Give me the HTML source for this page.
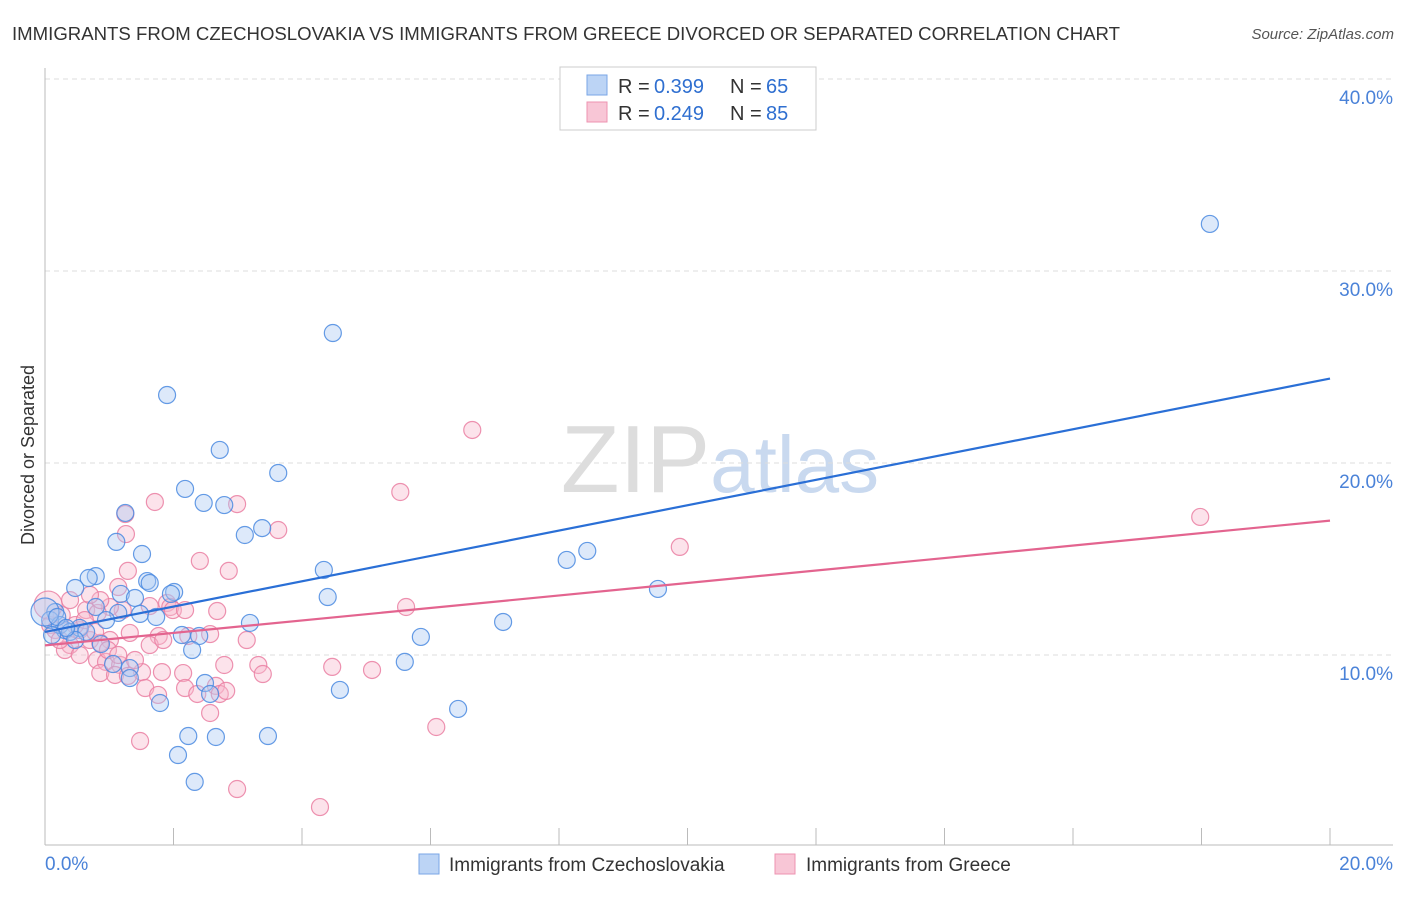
<!DOCTYPE html>
<html><head><meta charset="utf-8"><style>
body{margin:0;background:#fff;font-family:"Liberation Sans",sans-serif;}
svg text{font-family:"Liberation Sans",sans-serif;}
</style></head><body>
<svg width="1406" height="892" xmlns="http://www.w3.org/2000/svg">
<text x="12" y="40" font-size="18" fill="#333" textLength="1108" lengthAdjust="spacingAndGlyphs">IMMIGRANTS FROM CZECHOSLOVAKIA VS IMMIGRANTS FROM GREECE DIVORCED OR SEPARATED CORRELATION CHART</text>
<text x="1394" y="39" font-size="15" fill="#555" font-style="italic" text-anchor="end">Source: ZipAtlas.com</text>
<text x="720" y="492" font-size="96" fill="#ddd" text-anchor="middle" font-family="Liberation Serif">ZIP<tspan fill="#c9d9ef" font-family="Liberation Sans" font-size="80">atlas</tspan></text>
<g id="grid"></g>
<g id="axes"></g>
<g id="pts"></g>
<g id="lines"></g>
<text transform="translate(34,455) rotate(-90)" font-size="18" fill="#333" text-anchor="middle">Divorced or Separated</text>
<g>
<rect x="560" y="67" width="256" height="63" fill="#fff" stroke="#ccc"/>
<rect x="587" y="75" width="20" height="20" fill="#bcd4f5" stroke="#7aa6e6"/>
<rect x="587" y="102" width="20" height="20" fill="#f8c6d6" stroke="#ee93b0"/>
<text x="618" y="93" font-size="20" fill="#333">R =</text>
<text x="654" y="93" font-size="20" fill="#2f6fd0">0.399</text>
<text x="730" y="93" font-size="20" fill="#333">N =</text>
<text x="766" y="93" font-size="20" fill="#2f6fd0">65</text>
<text x="618" y="120" font-size="20" fill="#333">R =</text>
<text x="654" y="120" font-size="20" fill="#2f6fd0">0.249</text>
<text x="730" y="120" font-size="20" fill="#333">N =</text>
<text x="766" y="120" font-size="20" fill="#2f6fd0">85</text>
</g>
<g>
<rect x="419" y="854" width="20" height="20" fill="#bcd4f5" stroke="#7aa6e6"/>
<text x="449" y="871" font-size="19" fill="#333">Immigrants from Czechoslovakia</text>
<rect x="775" y="854" width="20" height="20" fill="#f8c6d6" stroke="#ee93b0"/>
<text x="806" y="871" font-size="19" fill="#333">Immigrants from Greece</text>
</g>
</svg>
<script>
const xTicks=[0,20];
const yTicks=[10,20,30,40];
const blueX=[18.13,4.48,1.90,2.72,3.63,2.18,2.47,2.79,3.11,3.38,1.25,1.11,1.51,4.34,8.12,8.44,9.54,0.79,0.68,0.47,1.59,1.63,2.01,1.96,1.18,1.40,4.40,0.79,1.14,0.95,1.48,1.73,3.19,7.13,2.13,2.40,5.85,2.29,0.87,5.60,1.06,1.32,1.32,2.49,2.57,4.59,1.79,6.43,2.23,2.66,3.47,2.07,2.33,0.16,0.08,0.31,0.23,0.39,0.54,0,0.19,0.64,0.47,0.33,0.11];
const blueY=[32.45,26.77,23.54,20.68,19.48,18.65,17.92,17.81,16.25,16.61,17.40,15.89,15.26,14.43,14.95,15.42,13.44,14.11,14.01,13.49,13.85,13.75,13.28,13.18,13.18,12.97,13.02,12.50,12.19,11.82,12.14,11.98,11.67,11.72,11.04,10.99,10.94,10.26,10.57,9.64,9.53,9.32,8.80,8.54,7.97,8.18,7.50,7.19,5.78,5.73,5.78,4.79,3.39,12.24,11.82,11.30,11.56,11.20,11.41,12.24,11.98,11.20,10.78,11.41,11.04];
const pinkX=[6.65,5.53,17.98,9.88,1.71,2.99,1.25,1.26,3.63,2.41,2.86,1.29,1.14,1.90,1.95,1.99,2.68,1.63,1.21,5.62,1.01,0.64,0.82,1.32,1.77,2.23,2.57,3.14,1.01,0.54,0.70,0.86,0.39,0.31,0.54,0.81,0.95,1.17,1.51,1.82,2.15,2.79,3.32,3.39,4.47,5.09,0.86,1.09,1.29,1.56,1.76,2.18,2.66,2.72,2.37,2.82,2.57,1.48,6.09,2.99,4.28,0.08,0.16,0.23,0.26,0.47,0.05,0.62,0.78,0.98,1.14,1.40,1.63,1.84,0.86,2.18,0.39,0.70];
const pinkY=[21.72,18.49,17.19,15.63,17.97,17.86,17.34,16.30,16.51,14.90,14.38,14.38,13.54,12.71,12.50,12.34,12.29,12.55,12.34,12.50,12.50,12.34,12.19,11.15,10.99,10.99,11.09,10.78,10.78,11.30,10.78,10.63,10.52,10.26,10.00,9.74,9.64,9.48,9.11,9.11,9.06,9.48,9.48,9.01,9.38,9.22,9.06,8.96,8.91,8.28,7.92,8.28,8.39,7.97,7.97,8.13,6.98,5.52,6.25,3.02,2.08,11.56,11.30,10.78,12.08,11.56,12.60,11.82,11.20,10.26,10.00,9.74,10.52,10.78,12.86,12.34,12.86,13.13];
const blueLine=[11.2,24.4];
const pinkLine=[10.5,17.0];
const NS='http://www.w3.org/2000/svg';
const X=v=>45+v*64.25, Y=v=>847-v*19.2;
function mk(t,a,p){const e=document.createElementNS(NS,t);for(const k in a)e.setAttribute(k,a[k]);document.getElementById(p).appendChild(e);return e;}
yTicks.forEach(t=>{
 const l=mk('line',{x1:45,x2:1393,y1:Y(t),y2:Y(t),stroke:'#ddd','stroke-dasharray':'5,4'},'grid');
 
 
 const tx=mk('text',{x:1393,y:Y(t)+25,'font-size':19,fill:'#4a82d8','text-anchor':'end'},'axes');tx.textContent=t.toFixed(1)+'%';
 
 
});
mk('line',{x1:45,x2:45,y1:68,y2:845,stroke:'#bbb'},'axes');
mk('line',{x1:45,x2:1393,y1:845,y2:845,stroke:'#bbb'},'axes');
for(let i=0;i<=10;i++)mk('line',{x1:X(i*2),x2:X(i*2),y1:828,y2:845,stroke:'#bbb'},'axes');
xTicks.forEach((t,i)=>{const tx=mk('text',{x:i?1393:45,y:870,'font-size':19,fill:'#4a82d8','text-anchor':i?'end':'start'},'axes');tx.textContent=t.toFixed(1)+'%';
 
 });
function pts(xs,ys,fill,stroke,name){xs.forEach((x,i)=>{const big=(x<0.06&&ys[i]>12);const c=mk('circle',{cx:X(x),cy:Y(ys[i]),r:big?14:8.5,fill:fill,'fill-opacity':0.4,stroke:stroke,'stroke-width':1.2,'stroke-opacity':0.85},'pts');
 
 });}
pts(pinkX,pinkY,'#f7b8cc','#ea7fa2','point-greece');
pts(blueX,blueY,'#a9c8f2','#4a8ae0','point-czechoslovakia');
const bl=mk('line',{x1:X(0),y1:Y(blueLine[0]),x2:X(20),y2:Y(blueLine[1]),stroke:'#2a6fd6','stroke-width':2.2},'lines');


const pl=mk('line',{x1:X(0),y1:Y(pinkLine[0]),x2:X(20),y2:Y(pinkLine[1]),stroke:'#e3648f','stroke-width':2.2},'lines');


</script>
</body></html>
